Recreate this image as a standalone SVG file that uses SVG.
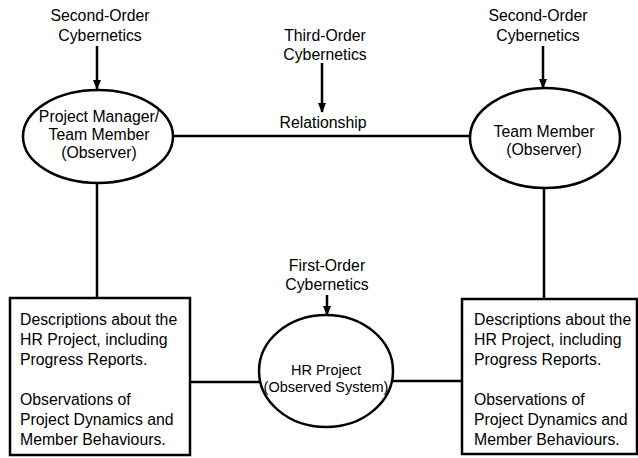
<svg xmlns="http://www.w3.org/2000/svg" width="638" height="458" viewBox="0 0 638 458">
  <defs>
    <marker id="arrowhead" markerUnits="userSpaceOnUse" markerWidth="10" markerHeight="12" refX="9" refY="4" orient="auto">
      <path d="M0,0 L10,4 L0,8 Z" fill="#000"/>
    </marker>
    <style>
      .shape { fill: #fff; stroke: #000; stroke-width: 2.5; }
      .link { fill: none; stroke: #000; stroke-width: 2.5; }
      .arrow { fill: none; stroke: #000; stroke-width: 2.5; marker-end: url(#arrowhead); }
      text { font-family: "Liberation Sans", Arial, Helvetica, sans-serif; font-size: 15.8px; fill: #000; }
      .c { text-anchor: middle; }
      .small { font-size: 14.5px; }
    </style>
  </defs>

  <!-- connectors -->
  <g id="connectors">
    <line class="link" x1="172" y1="136" x2="470" y2="136"/>
    <line class="link" x1="97" y1="183" x2="97" y2="298"/>
    <line class="link" x1="544" y1="188" x2="544" y2="299"/>
    <line class="link" x1="190" y1="382" x2="260" y2="382"/>
    <line class="link" x1="392" y1="381" x2="462" y2="381"/>
    <line class="arrow" x1="97" y1="46" x2="97" y2="89"/>
    <line class="arrow" x1="543" y1="46" x2="543" y2="88"/>
    <line class="arrow" x1="322" y1="63" x2="322" y2="112"/>
    <line class="arrow" x1="327" y1="295" x2="327" y2="315"/>
  </g>

  <!-- labels on the arrows -->
  <g id="second-order-left">
    <text class="c" x="100" y="21">Second-Order</text>
    <text class="c" x="100" y="41">Cybernetics</text>
  </g>
  <g id="second-order-right">
    <text class="c" x="538" y="21">Second-Order</text>
    <text class="c" x="538" y="41">Cybernetics</text>
  </g>
  <g id="third-order">
    <text class="c" x="325" y="41">Third-Order</text>
    <text class="c" x="325" y="60">Cybernetics</text>
    <text class="c" x="323" y="128">Relationship</text>
  </g>
  <g id="first-order">
    <text class="c" x="327" y="271">First-Order</text>
    <text class="c" x="327" y="290">Cybernetics</text>
  </g>

  <!-- observer nodes -->
  <g id="project-manager">
    <ellipse class="shape" cx="98" cy="136.5" rx="75" ry="46.5"/>
    <text class="c" x="99" y="122">Project Manager/</text>
    <text class="c" x="99" y="140">Team Member</text>
    <text class="c" x="99" y="158">(Observer)</text>
  </g>
  <g id="team-member">
    <ellipse class="shape" cx="545" cy="138" rx="75" ry="50"/>
    <text class="c" x="544" y="137">Team Member</text>
    <text class="c" x="544" y="155">(Observer)</text>
  </g>

  <!-- observed system -->
  <g id="hr-project">
    <ellipse class="shape" cx="326" cy="371" rx="67" ry="56"/>
    <text class="c small" x="326" y="375">HR Project</text>
    <text class="c small" x="326" y="392">(Observed System)</text>
  </g>

  <!-- description boxes -->
  <g id="descriptions-left">
    <rect class="shape" x="10" y="298" width="180" height="157"/>
    <text x="20" y="325">Descriptions about the</text>
    <text x="20" y="345">HR Project, including</text>
    <text x="20" y="365">Progress Reports.</text>
    <text x="20" y="405">Observations of</text>
    <text x="20" y="425">Project Dynamics and</text>
    <text x="20" y="445">Member Behaviours.</text>
  </g>
  <g id="descriptions-right">
    <rect class="shape" x="462" y="299" width="175" height="155"/>
    <text x="474" y="325">Descriptions about the</text>
    <text x="474" y="345">HR Project, including</text>
    <text x="474" y="365">Progress Reports.</text>
    <text x="474" y="405">Observations of</text>
    <text x="474" y="425">Project Dynamics and</text>
    <text x="474" y="445">Member Behaviours.</text>
  </g>
</svg>
